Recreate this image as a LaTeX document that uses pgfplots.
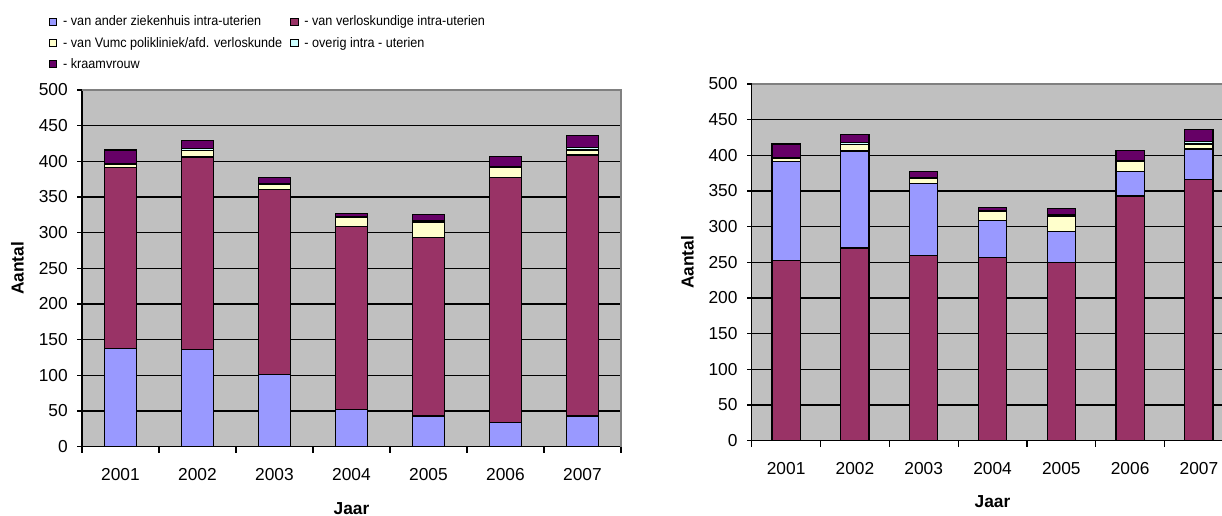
\documentclass[border=0pt]{standalone}
\usepackage{pgfplots}
\pgfplotsset{compat=1.18}
\usepackage{pgfplotstable}
\usepackage{fontspec}
\setmainfont{Liberation Sans}
\newfontfamily\legfont[FakeStretch=0.92]{Liberation Sans}
\definecolor{cA}{HTML}{9999FF}
\definecolor{cB}{HTML}{993366}
\definecolor{cC}{HTML}{FFFFCC}
\definecolor{cD}{HTML}{CCFFFF}
\definecolor{cE}{HTML}{660066}
\definecolor{bgC}{HTML}{C0C0C0}
\definecolor{frameC}{HTML}{808080}

\pgfplotstableread{
x ander verlos vumc overig kraam
0 138 253 4 2 19
1 136 270 9 3 11
2 101 260 6 2 8
3 52 257 12 2 4
4 43 250 22 2 9
5 34 343 14 2 14
6 43 366 7 3 17
}\data

\pgfplotsset{
  mybase/.style={
    scale only axis, anchor=south west,
    ybar stacked, bar width=0.41,
    xmin=-0.5, xmax=6.5, ymin=0, ymax=500,
    ytick={0,50,...,500},
    xtick={0,...,6}, xticklabels={2001,2002,2003,2004,2005,2006,2007},
    minor xtick={-0.5,0.5,...,6.5},
    axis x line*=bottom, axis y line*=left,
    axis line style={black, line width=0.9pt, -},
    tick align=outside,
    major tick length=3.5pt, minor tick length=4.5pt,
    major x tick style={draw=none},
    minor x tick style={black, line width=0.9pt},
    major y tick style={black, line width=0.9pt},
    axis background/.style={fill=bgC},
    ymajorgrids, y grid style={black, line width=0.9pt},
    /pgf/number format/assume math mode=true,
    tick label style={font=\fontsize{13}{15}\selectfont},
    yticklabel style={anchor=east, inner sep=0pt, xshift=-7pt},
    xticklabel style={anchor=north, inner sep=0pt, yshift=-12.5pt},
    label style={font=\bfseries\fontsize{13}{15}\selectfont},
    xlabel={Jaar}, ylabel={Aantal},
    every axis plot/.append style={draw=black, line width=0.9pt},
    after end axis/.code={\draw[frameC, line width=0.9pt] (rel axis cs:0,1) -- (rel axis cs:1,1) -- (rel axis cs:1,0);},
  }
}

\begin{document}
\begin{tikzpicture}
\useasboundingbox (0,0) rectangle (916.5pt,387pt);
\clip (0,0) rectangle (916.5pt,387pt);
\begin{axis}[mybase,
  at={(61.5pt,52pt)}, width=404.25pt, height=267.5pt,
  xlabel style={at={(axis description cs:0.5,-0.1738)}, anchor=center},
  ylabel style={at={(axis description cs:-0.12,0.5)}, anchor=center},
  legend columns=2, legend cell align=left,
  legend image code/.code={\draw[#1, draw=black, line width=0.7pt] (0pt,-2.7pt) rectangle (5.4pt,2.7pt);},
  legend style={at={(axis description cs:-0.0690,1.220)}, anchor=north west, draw=none, fill=none,
    font=\legfont\fontsize{10.3}{12}\selectfont, row sep=5pt,
    nodes={inner sep=1pt},
    /tikz/every odd column/.append style={column sep=3.5pt},
    /tikz/every even column/.append style={column sep=5pt}},
]
\addplot[fill=cA] table[x=x, y=ander] {\data};
\addplot[fill=cB] table[x=x, y=verlos] {\data};
\addplot[fill=cC] table[x=x, y=vumc] {\data};
\addplot[fill=cD] table[x=x, y=overig] {\data};
\addplot[fill=cE] table[x=x, y=kraam] {\data};
\legend{- van ander ziekenhuis intra-uterien, - van verloskundige intra-uterien, - van Vumc polikliniek/afd. verloskunde, - overig intra - uterien, - kraamvrouw}
\end{axis}
\begin{axis}[mybase,
  at={(563.8pt,56.5pt)}, width=361.2pt, height=267.5pt,
  xlabel style={at={(axis description cs:0.5,-0.1697)}, anchor=center},
  ylabel style={at={(axis description cs:-0.1334,0.5)}, anchor=center},
]
\addplot[fill=cB] table[x=x, y=verlos] {\data};
\addplot[fill=cA] table[x=x, y=ander] {\data};
\addplot[fill=cC] table[x=x, y=vumc] {\data};
\addplot[fill=cD] table[x=x, y=overig] {\data};
\addplot[fill=cE] table[x=x, y=kraam] {\data};
\end{axis}
\end{tikzpicture}
\end{document}
